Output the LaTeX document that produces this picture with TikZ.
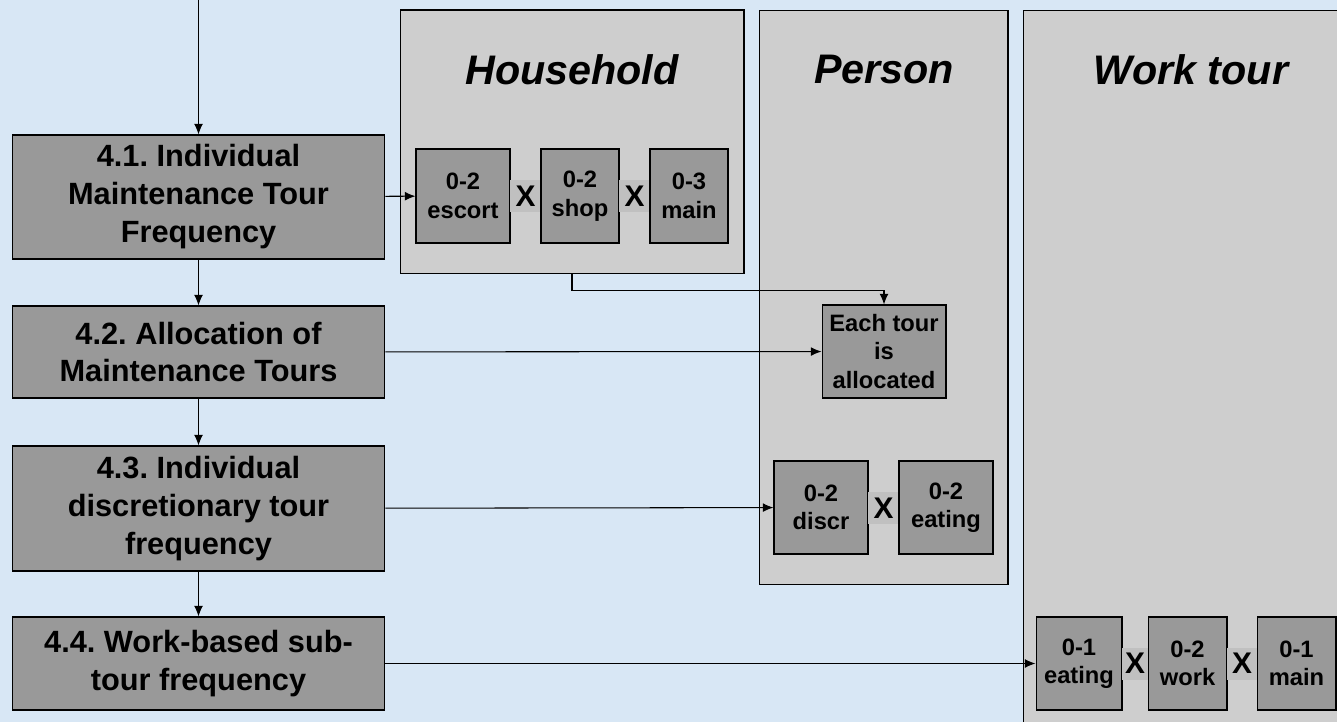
\documentclass[tikz,border=0pt]{standalone}
\usepackage{fontspec}
\setmainfont{Liberation Sans}
\usepackage{tikz}
\usetikzlibrary{arrows.meta}
\frenchspacing
\definecolor{bgblue}{RGB}{216,231,245}
\definecolor{panelgray}{RGB}{206,206,206}
\definecolor{boxgray}{RGB}{153,153,153}
\definecolor{bandgray}{RGB}{192,192,192}
\tikzset{
  stepbox/.style={draw, fill=boxgray, line width=0.6pt, align=center, inner sep=0pt,
    minimum width=7.46cm, font=\bfseries\fontsize{17.5}{21.6}\selectfont},
  panel/.style={draw, fill=panelgray, line width=0.6pt, inner sep=0pt},
  paneltitle/.style={font=\bfseries\itshape\fontsize{23.5}{28}\selectfont},
  choice/.style={draw, fill=boxgray, line width=0.6pt, align=center, inner sep=0pt,
    minimum height=1.86cm, font=\bfseries\fontsize{13.5}{16.2}\selectfont},
  times/.style={fill=bandgray, inner sep=0pt, minimum height=0.64cm,
    font=\bfseries\fontsize{17}{20}\selectfont}
}
\begin{document}
\begin{tikzpicture}[x=0.02cm, y=-0.02cm, line width=0.6pt, >={Latex[length=6pt,width=5pt]}]
\clip (0,0) rectangle (1337,722);
\fill[bgblue] (0,0) rectangle (1337,722);

% panels
\node[panel, minimum width=6.88cm, minimum height=5.28cm] (hh) at (572,142) {};
\node[panel, minimum width=4.98cm, minimum height=11.5cm] (per) at (883.5,297.5) {};
\node[panel, minimum width=6.74cm, minimum height=15cm] (wt) at (1191.5,385) {};

\node[paneltitle] (hhT) at (572,70) {Household};
\node[paneltitle] (perT) at (884,70) {Person};
\node[paneltitle] (wtT) at (1191,70) {Work tour};

% model steps
\coordinate (top) at (198.5,0);
\node[stepbox, minimum height=2.48cm] (s1) at (198.5,197) {4.1. Individual\\Maintenance Tour\\Frequency};
\node[stepbox, minimum height=1.84cm] (s2) at (198.5,352) {4.2. Allocation of\\Maintenance Tours};
\node[stepbox, minimum height=2.5cm] (s3) at (198.5,508.5) {4.3. Individual\\discretionary tour\\frequency};
\node[stepbox, minimum height=1.86cm] (s4) at (198.5,663.5) {4.4. Work-based sub-\\tour frequency};

% household choices
\node[choice, minimum width=1.88cm, minimum height=1.88cm] (hesc) at (463,196) {0-2\\escort};
\node[times, minimum width=0.62cm] (hx1) at (525.5,196) {X};
\node[choice, minimum width=1.56cm, minimum height=1.88cm] (hshop) at (580,196) {0-2\\shop};
\node[times, minimum width=0.62cm] (hx2) at (634.5,196) {X};
\node[choice, minimum width=1.56cm, minimum height=1.88cm] (hmain) at (689,196) {0-3\\main};

% person choices
\node[choice, minimum width=2.48cm] (each) at (884,351.5) {Each tour\\is\\allocated};
\node[choice, minimum width=1.88cm] (pdisc) at (821,507.5) {0-2\\discr};
\node[times, minimum width=0.62cm] (px1) at (883.5,508) {X};
\node[choice, minimum width=1.88cm] (peat) at (946,507.5) {0-2\\eating};

% work tour choices
\node[choice, minimum width=1.72cm] (weat) at (1079,663.5) {0-1\\eating};
\node[times, minimum width=0.52cm] (wx1) at (1135,663.5) {X};
\node[choice, minimum width=1.58cm] (wwork) at (1187.5,663.5) {0-2\\work};
\node[times, minimum width=0.6cm] (wx2) at (1242,663.5) {X};
\node[choice, minimum width=1.58cm] (wmain) at (1296.5,663.5) {0-1\\main};

\draw[->] (top) -- (s1);
\draw[->] (s1) -- (s2);
\draw[->] (s2) -- (s3);
\draw[->] (s3) -- (s4);

\draw[->] (s1) -- (hesc);
\draw[->] (s2) -- (each);
\draw[->] (s3) -- (pdisc);
\draw[->] (s4) -- (weat);
\draw[->] (hh.south) -- ++(0,16) -| (each.north);

\end{tikzpicture}
\end{document}
